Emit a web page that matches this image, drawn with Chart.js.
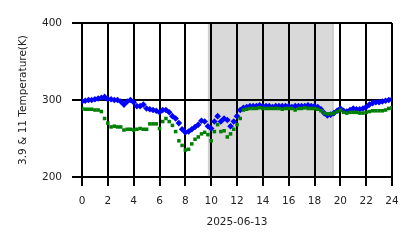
<!DOCTYPE html>
<html>
<head>
<meta charset="utf-8">
<script src="https://cdn.jsdelivr.net/npm/chart.js@4"></script>
<style>
  html, body { margin: 0; padding: 0; background: #fff; }
  #wrap { width: 418px; height: 248px; }
</style>
</head>
<body>
<div id="wrap"><canvas id="c" width="418" height="248"></canvas></div>
<script>
// hours of 2025-06-13
const hours = [
  0, 0.25, 0.5, 0.75, 1, 1.25, 1.5, 1.75, 2, 2.25, 2.5, 2.75,
  3, 3.25, 3.5, 3.75, 4, 4.25, 4.5, 4.75, 5, 5.25, 5.5, 5.75,
  6, 6.25, 6.5, 6.75, 7, 7.25, 7.5, 7.75, 8, 8.25, 8.5, 8.75,
  9, 9.25, 9.5, 9.75, 10, 10.25, 10.5, 10.75, 11, 11.25, 11.5, 11.75,
  12, 12.25, 12.5, 12.75, 13, 13.25, 13.5, 13.75, 14, 14.25, 14.5, 14.75,
  15, 15.25, 15.5, 15.75, 16, 16.25, 16.5, 16.75, 17, 17.25, 17.5, 17.75,
  18, 18.25, 18.5, 18.75, 19, 19.25, 19.5, 19.75, 20, 20.25, 20.5, 20.75,
  21, 21.25, 21.5, 21.75, 22, 22.25, 22.5, 22.75, 23, 23.25, 23.5, 23.75, 24
];

// 3.9 um temperature (blue)
const temp39 = [
  298, 299, 300, 300, 301, 302, 303, 304, 301, 301, 300, 300,
  298, 294, 298, 300, 297, 292, 292, 294, 289, 288, 287, 286,
  284, 287, 287, 284, 279, 276, 270, 262, 258, 259, 262, 265,
  268, 273, 272, 266, 263, 272, 279, 272, 276, 274, 266, 272,
  279, 287, 290, 291, 292, 292, 292, 293, 292, 292, 292, 291,
  292, 292, 292, 292, 292, 291, 292, 292, 292, 292, 293, 292,
  292, 291, 288, 283, 280, 281, 283, 286, 289, 286, 285, 287,
  289, 288, 288, 289, 291, 294, 296, 297, 297, 298, 299, 300, 301
];

// 11 um temperature (green)
const temp11 = [
  289, 288, 288, 288, 287, 287, 285, 276, 270, 265, 266, 265,
  265, 261, 262, 262, 261, 262, 263, 262, 262, 269, 269, 269,
  263, 272, 276, 272, 267, 259, 247, 241, 235, 236, 243, 249,
  252, 256, 258, 255, 247, 259, 268, 259, 260, 252, 256, 262,
  268, 276, 287, 288, 289, 289, 289, 290, 289, 289, 289, 289,
  289, 289, 288, 289, 289, 289, 287, 289, 289, 290, 289, 289,
  289, 288, 286, 283, 282, 282, 283, 285, 287, 284, 283, 284,
  284, 284, 283, 283, 284, 285, 286, 286, 286, 286, 287, 289, 290
];

const shadeSpan = [9.8, 19.45];
const xTicks = [0, 2, 4, 6, 8, 10, 12, 14, 16, 18, 20, 22, 24];
const yTicks = [200, 300, 400];

const toPoints = (vals) => vals.map((v, i) => ({ x: hours[i], y: v }));

// grey band behind the grid
const shadePlugin = {
  id: "shade",
  beforeDraw(chart) {
    const { ctx, chartArea, scales } = chart;
    const x0 = scales.x.getPixelForValue(shadeSpan[0]);
    const x1 = scales.x.getPixelForValue(shadeSpan[1]);
    ctx.save();
    ctx.fillStyle = "rgba(128,128,128,0.3)";
    ctx.fillRect(x0, chartArea.top, x1 - x0, chartArea.bottom - chartArea.top);
    ctx.strokeStyle = "rgba(128,128,128,0.3)";
    ctx.lineWidth = 1.5;
    ctx.beginPath();
    ctx.moveTo(x0, chartArea.top);
    ctx.lineTo(x0, chartArea.bottom);
    ctx.moveTo(x1, chartArea.top);
    ctx.lineTo(x1, chartArea.bottom);
    ctx.stroke();
    ctx.restore();
  }
};

const font = { family: "DejaVu Sans", size: 10.5 };

new Chart(document.getElementById("c"), {
  type: "scatter",
  data: {
    datasets: [
      {
        label: "11",
        data: toPoints(temp11),
        pointStyle: "rect",
        pointRadius: 2.5,
        pointBorderWidth: 0,
        backgroundColor: "#008000",
        borderColor: "#008000",
      },
      {
        label: "3.9",
        data: toPoints(temp39),
        pointStyle: "rectRot",
        pointRadius: 3.3,
        pointBorderWidth: 0,
        backgroundColor: "#0000ff",
        borderColor: "#0000ff",
      },
    ],
  },
  options: {
    responsive: false,
    animation: false,
    layout: { padding: { top: 23, right: 26, left: 0, bottom: 0 } },
    plugins: { legend: { display: false }, tooltip: { enabled: false } },
    scales: {
      x: {
        type: "linear",
        min: 0,
        max: 24,
        afterBuildTicks: (s) => { s.ticks = xTicks.map((v) => ({ value: v })); },
        afterFit: (s) => { s.height = 71; },
        grid: { color: "#000", lineWidth: 2, tickLength: 9 },
        border: { color: "#000", width: 2 },
        ticks: { color: "#222", font, padding: 9, maxRotation: 0 },
        title: { display: true, text: "2025-06-13", color: "#222", font, padding: { top: 0, bottom: 19 } },
      },
      y: {
        min: 200,
        max: 400,
        afterBuildTicks: (s) => { s.ticks = yTicks.map((v) => ({ value: v })); },
        afterFit: (s) => { s.width = 82; },
        grid: { color: "#000", lineWidth: 2, tickLength: 10 },
        border: { color: "#000", width: 2 },
        ticks: { color: "#222", font, padding: 10 },
        title: { display: true, text: "3.9 & 11 Temperature(K)", color: "#222", font, padding: { top: 17, bottom: 0 } },
      },
    },
  },
  plugins: [shadePlugin],
});
</script>
</body>
</html>
